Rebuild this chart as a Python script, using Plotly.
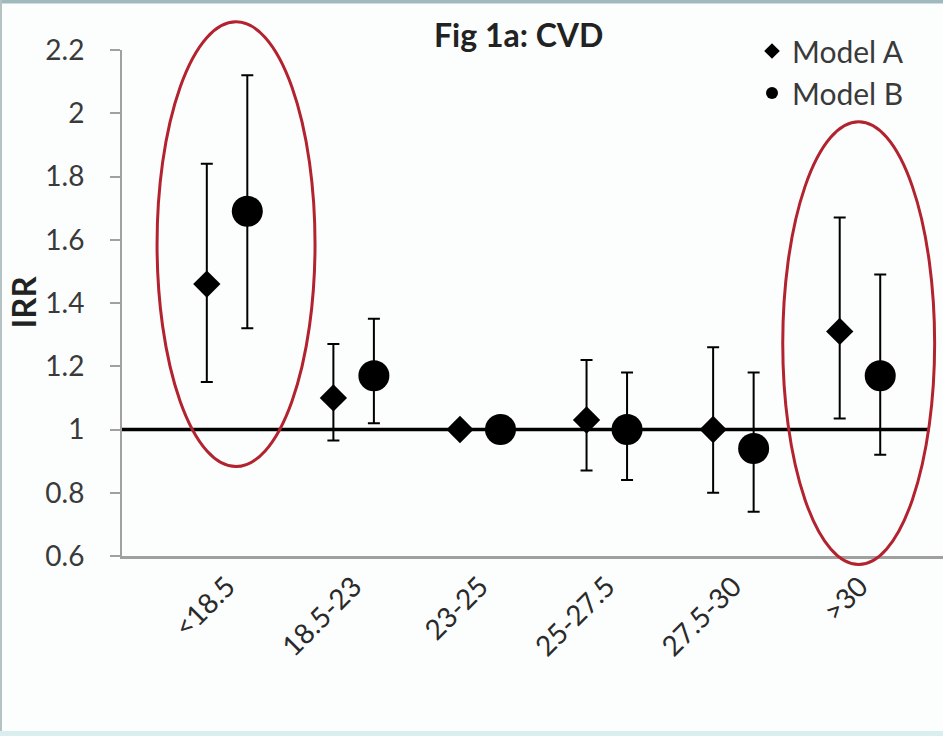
import plotly.graph_objects as go

# ---------------- data ----------------
categories = ["<18.5", "18.5-23", "23-25", "25-27.5", "27.5-30", ">30"]

model_a = [1.46, 1.10, 1.00, 1.03, 1.00, 1.31]
model_a_upper = [1.84, 1.27, 1.00, 1.22, 1.26, 1.67]
model_a_lower = [1.15, 0.965, 1.00, 0.87, 0.80, 1.035]

model_b = [1.69, 1.17, 1.00, 1.00, 0.94, 1.17]
model_b_upper = [2.12, 1.35, 1.00, 1.18, 1.18, 1.49]
model_b_lower = [1.32, 1.02, 1.00, 0.84, 0.74, 0.92]

y_ticks = [0.6, 0.8, 1.0, 1.2, 1.4, 1.6, 1.8, 2.0, 2.2]
y_tick_labels = ["0.6", "0.8", "1", "1.2", "1.4", "1.6", "1.8", "2", "2.2"]
reference_value = 1.0

# highlighted groups (ellipses), in data units: (x0, x1, y0, y1)
highlights = [(-0.553, 0.695, 0.883, 2.289), (4.39, 5.59, 0.573, 1.973)]

# ---------------- layout helpers ----------------
W, H = 943, 736
ML, MR, MT, MB = 122, 0, 50, 180
PW, PH = W - ML - MR, H - MT - MB
X_RANGE = [-0.83, 5.656]
Y_RANGE = [0.6, 2.2]
OFFSET = 0.16
FONT = "Lato, 'Open Sans', sans-serif"

idx = list(range(len(categories)))
xa = [i - OFFSET for i in idx]
xb = [i + OFFSET for i in idx]


def err_plus(vals, up):
    return [u - v for v, u in zip(vals, up)]


def err_minus(vals, lo):
    return [v - l for v, l in zip(vals, lo)]


def to_px(x):
    return (x - X_RANGE[0]) / (X_RANGE[1] - X_RANGE[0])


def to_py(y):
    return (y - Y_RANGE[0]) / (Y_RANGE[1] - Y_RANGE[0])


fig = go.Figure()

fig.add_trace(go.Scatter(
    x=xa, y=model_a, mode="markers", name="Model A",
    marker=dict(symbol="diamond", size=21, color="black"),
    error_y=dict(type="data", symmetric=False,
                 array=err_plus(model_a, model_a_upper),
                 arrayminus=err_minus(model_a, model_a_lower),
                 color="black", thickness=2, width=6),
))
fig.add_trace(go.Scatter(
    x=xb, y=model_b, mode="markers", name="Model B",
    marker=dict(symbol="circle", size=31, color="black"),
    error_y=dict(type="data", symmetric=False,
                 array=err_plus(model_b, model_b_upper),
                 arrayminus=err_minus(model_b, model_b_lower),
                 color="black", thickness=2, width=6),
))

shapes = [
    dict(type="line", xref="x", yref="y", x0=X_RANGE[0], x1=5.55,
         y0=reference_value, y1=reference_value,
         line=dict(color="black", width=3.5), layer="below"),
]
for (x0, x1, y0, y1) in highlights:
    shapes.append(dict(type="circle", xref="paper", yref="paper",
                       x0=to_px(x0), x1=to_px(x1), y0=to_py(y0), y1=to_py(y1),
                       line=dict(color="#b3232f", width=3), layer="above"))
# outer frame (top band, left edge, bottom band)
top_y = 1 + MT / PH
bot_y = -MB / PH
left_x = -ML / PW
shapes += [
    dict(type="line", xref="paper", yref="paper", x0=left_x, x1=1.0,
         y0=top_y, y1=top_y, line=dict(color="#9fb9bc", width=7)),
    dict(type="line", xref="paper", yref="paper", x0=left_x, x1=left_x,
         y0=bot_y, y1=top_y, line=dict(color="#b4c2c3", width=4)),
    dict(type="line", xref="paper", yref="paper", x0=left_x, x1=1.0,
         y0=bot_y, y1=bot_y, line=dict(color="#d9eeee", width=10)),
]

fig.update_layout(
    width=W, height=H,
    margin=dict(l=ML, r=MR, t=MT, b=MB),
    paper_bgcolor="#fcfefe",
    plot_bgcolor="#fcfefe",
    font=dict(family=FONT, size=28, color="#3a3a3a"),
    showlegend=True,
    legend=dict(x=(752 - ML) / PW, y=1 + 25 / PH, xanchor="left", yanchor="top",
                bgcolor="rgba(0,0,0,0)", font=dict(size=30, color="#3a3a3a"),
                itemsizing="constant", tracegroupgap=0),
    shapes=shapes,
    annotations=[
        dict(text="<b>Fig 1a: CVD</b>", xref="paper", yref="paper",
             x=(518 - ML) / PW, y=1 + (MT - 35) / PH, xanchor="center", yanchor="middle",
             showarrow=False, font=dict(size=32, color="#222222", family=FONT)),
        dict(text="<b>IRR</b>", xref="paper", yref="paper",
             x=(23 - ML) / PW, y=to_py(1 + (430 - 303) / 316.5),
             xanchor="center", yanchor="middle", textangle=-90,
             showarrow=False, font=dict(size=33, color="#222222", family=FONT)),
    ],
    xaxis=dict(range=X_RANGE, tickvals=idx, ticktext=categories,
               tickangle=-45, showgrid=False, zeroline=False,
               showline=True, linecolor="#a0a0a0", linewidth=3,
               ticks="", tickfont=dict(size=28, color="#2a2a2a")),
    yaxis=dict(range=Y_RANGE, tickvals=y_ticks, ticktext=y_tick_labels,
               showgrid=False, zeroline=False,
               showline=True, linecolor="#a0a0a0", linewidth=2,
               ticks="outside", ticklen=10, tickcolor="#a0a0a0", tickwidth=2,
               ticklabelstandoff=20,
               tickfont=dict(size=28, color="#3a3a3a")),
)

fig.write_html("out.html", config={"displayModeBar": False},
               post_script="document.body.style.margin='0';")
